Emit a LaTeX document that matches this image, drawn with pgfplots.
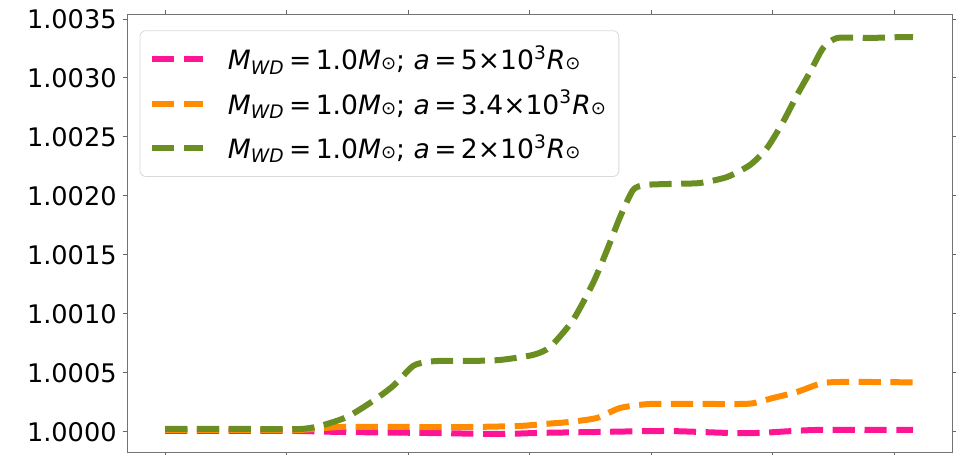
\documentclass[border=0pt]{standalone}
\usepackage{fontspec}
\setmainfont{DejaVu Sans}
\usepackage{pgfplots}
\pgfplotsset{compat=1.18}
\definecolor{cpink}{HTML}{FF1493}
\definecolor{corange}{HTML}{FF8C00}
\definecolor{cgreen}{HTML}{6B8E23}
\newcommand{\ent}[1]{\textit{M}\textsubscript{\textit{WD}}\,=\,1.0\textit{M}{\small ⊙}; \textit{a}\,=\,#1\textit{R}{\small ⊙}}
\begin{document}
\begin{tikzpicture}
\useasboundingbox (-64pt,-1pt) rectangle (414pt,226pt);
\begin{axis}[
  at={(0,0)}, anchor=south west,
  scale only axis, width=412pt, height=218.5pt,
  xmin=-0.305, xmax=6.477, ymin=0.99983, ymax=1.003534,
  xtick={0,1,2,3,4,5,6}, xticklabels={},
  ytick={1.0000,1.0005,1.0010,1.0015,1.0020,1.0025,1.0030,1.0035},
  yticklabels={1.0000,1.0005,1.0010,1.0015,1.0020,1.0025,1.0030,1.0035},
  scaled y ticks=false,
  tick align=outside, major tick length=2.5pt,
  tick style={black!60, line width=0.5pt},
  axis line style={black!55, line width=0.5pt},
  ticklabel style={font=\fontsize{12.8}{15}\selectfont},
  yticklabel style={inner sep=0pt, xshift=-3pt},
  legend style={at={(0.014,0.965)}, anchor=north west, draw=black!15, rounded corners=3pt, fill=white,
    font=\fontsize{13.3}{15.8}\selectfont, inner xsep=4.5pt, inner ysep=5.5pt, row sep=4.5pt,
    /tikz/every odd column/.append style={column sep=9pt}},
  legend cell align=left,
  legend image code/.code={\draw[#1] (0pt,0pt) -- (25.5pt,0pt);},
  every axis plot/.append style={line width=3pt, dash pattern=on 11.1pt off 4.8pt, smooth, tension=0.4},
]
\addplot[cpink] coordinates {
(0,1.000008) (0.7,1.000008) (1.111,1.000008) (1.440,1.0) (2.099,0.999992) (2.757,0.999983)
(3.086,0.999992) (3.580,1.0) (4.132,1.000008) (4.626,0.999992) (4.897,0.999992)
(5.366,1.000017) (6.156,1.000017)};
\addlegendentry{\ent{5×10\textsuperscript{3}}}
\addplot[corange] coordinates {
(0,1.000017) (0.7,1.000017) (1.111,1.000017) (1.440,1.000042) (1.934,1.000042) (2.510,1.000042)
(2.922,1.000051) (3.128,1.000068) (3.333,1.000085) (3.556,1.000119) (3.745,1.000203)
(3.992,1.000237) (4.461,1.000237) (4.815,1.000240) (5.004,1.000288) (5.202,1.000339)
(5.416,1.000415) (5.663,1.000424) (6.156,1.000420)};
\addlegendentry{\ent{3.4×10\textsuperscript{3}}}
\addplot[cgreen] coordinates {
(0,1.000025) (0.288,1.000025) (0.700,1.000025) (1.111,1.000025) (1.276,1.000051) (1.498,1.000127)
(1.712,1.000263) (1.877,1.000390) (2.041,1.000559) (2.156,1.000593) (2.263,1.000602)
(2.510,1.000602) (2.757,1.000610) (3.029,1.000653) (3.169,1.000720) (3.358,1.000949)
(3.523,1.001263) (3.638,1.001542) (3.745,1.001822) (3.852,1.002051) (3.951,1.002093)
(4.156,1.002102) (4.403,1.002110) (4.626,1.002161) (4.815,1.002263) (4.955,1.002407)
(5.086,1.002627) (5.202,1.002856) (5.309,1.003051) (5.416,1.003254) (5.531,1.003339)
(5.778,1.003339) (6.074,1.003347) (6.156,1.003347)};
\addlegendentry{\ent{2×10\textsuperscript{3}}}
\end{axis}
\end{tikzpicture}
\end{document}
